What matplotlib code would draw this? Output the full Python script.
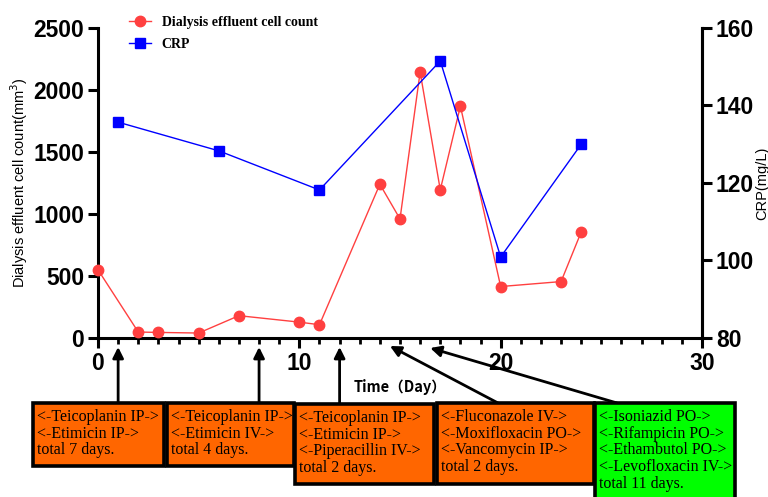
import matplotlib
matplotlib.use("Agg")
import matplotlib.pyplot as plt
from matplotlib.patches import Rectangle
from matplotlib.ticker import MultipleLocator

# ---- data ----
cell_days = [0, 2, 3, 5, 7, 10, 11, 14, 15, 16, 17, 18, 20, 23, 24]
cell_counts = [550, 48, 45, 40, 180, 128, 107, 1240, 960, 2145, 1195, 1870, 415, 455, 855]
crp_days = [1, 6, 11, 17, 20, 24]
crp_values = [135.7, 128.3, 118.2, 151.5, 100.9, 130.0]

x_ticks = [0, 10, 20, 30]
left_ticks = [0, 500, 1000, 1500, 2000, 2500]
right_ticks = [80, 100, 120, 140, 160]

arrow_days = [1, 8, 12, 14.5, 16.5]
box_texts = [
    "<-Teicoplanin IP->\n<-Etimicin IP->\ntotal 7 days.",
    "<-Teicoplanin IP->\n<-Etimicin IV->\ntotal 4 days.",
    "<-Teicoplanin IP->\n<-Etimicin IP->\n<-Piperacillin IV->\ntotal 2 days.",
    "<-Fluconazole IV->\n<-Moxifloxacin PO->\n<-Vancomycin IP->\ntotal 2 days.",
    "<-Isoniazid PO->\n<-Rifampicin PO->\n<-Ethambutol PO->\n<-Levofloxacin IV->\ntotal 11 days.",
]
box_colors = ["#FF6600", "#FF6600", "#FF6600", "#FF6600", "#00FF00"]

# ---- layout (pixels) ----
W, H = 768, 497
fig = plt.figure(figsize=(W / 100, H / 100), dpi=100)
ax = fig.add_axes([98 / W, 1 - 338 / H, (702 - 98) / W, (338 - 28) / H])
ax2 = ax.twinx()

red = "#FF4040"
blue = "#0000FF"
l1, = ax.plot(cell_days, cell_counts, color=red, lw=1, marker="o", ms=7.5,
              label="Dialysis effluent cell count", clip_on=False, zorder=3)
l2, = ax2.plot(crp_days, crp_values, color=blue, lw=1, marker="s", ms=7.5,
               label="CRP", clip_on=False, zorder=3)

ax.set_xlim(0, 30)
ax.set_ylim(0, 2500)
ax2.set_ylim(80, 160)
ax.set_xticks(x_ticks)
ax.xaxis.set_minor_locator(MultipleLocator(1))
ax.set_yticks(left_ticks)
ax2.set_yticks(right_ticks)

for a in (ax, ax2):
    for s in a.spines.values():
        s.set_linewidth(2.2)
    a.spines["top"].set_visible(False)
ax2.spines["left"].set_visible(False)
ax2.spines["bottom"].set_visible(False)

ax.tick_params(axis="both", which="major", direction="out", length=7, width=2.2,
               labelsize=16.5, pad=3)
ax.tick_params(axis="x", which="minor", direction="out", length=4, width=2)
ax2.tick_params(axis="y", which="major", direction="out", length=7, width=2.2,
                labelsize=16.5, pad=3)
for lab in ax.get_xticklabels() + ax.get_yticklabels() + ax2.get_yticklabels():
    lab.set_fontweight("bold")
    lab.set_family(["Liberation Sans", "DejaVu Sans"])

ax.set_ylabel("Dialysis effluent cell count(mm$^3$)", fontsize=10.5,
              family=["Liberation Sans", "DejaVu Sans"], labelpad=2)
ax2.set_ylabel("CRP(mg/L)", fontsize=10.5, family=["Liberation Sans", "DejaVu Sans"],
               labelpad=1)
ax.set_xlabel("Time（Day）", fontsize=10.5, fontweight="bold",
              family=["Noto Sans CJK SC", "DejaVu Sans"], labelpad=3)

leg = fig.legend(handles=[l1, l2], loc="upper left",
                 bbox_to_anchor=(116 / W, 1 - 3 / H), frameon=False,
                 prop={"family": "Liberation Serif", "weight": "bold", "size": 10},
                 handlelength=1.6, labelspacing=0.65, handletextpad=0.8)

# ---- boxes ----
boxes_px = [  # left, top, right, bottom
    (33, 403, 164, 466),
    (167, 403, 294, 466),
    (295, 404, 434, 484),
    (437, 403, 594, 484),
    (595, 403, 735, 505),
]
for (l, t, r, b), txt, c in zip(boxes_px, box_texts, box_colors):
    rect = Rectangle((l / W, 1 - b / H), (r - l) / W, (b - t) / H,
                     transform=fig.transFigure, facecolor=c, edgecolor="black",
                     lw=2.6, clip_on=False)
    fig.patches.append(rect)
    fig.text((l + 4) / W, 1 - (t + 6) / H, txt, ha="left", va="top",
             family="Liberation Serif", fontsize=11.5, linespacing=1.06)

# ---- arrows ----
def px_to_axes_y(py):
    return (338 - py) / 310.0

tail_days = [1, 8, 12, (498 - 98) / (604 / 30), (617 - 98) / (604 / 30)]
head_y = [347, 347, 347, 346, 348]
tail_y = [403, 403, 404, 403, 403]
bt = ax.get_xaxis_transform()
for d, td, hy, ty in zip(arrow_days, tail_days, head_y, tail_y):
    ax.annotate("", xy=(d, px_to_axes_y(hy)), xycoords=bt,
                xytext=(td, px_to_axes_y(ty)), textcoords=bt,
                arrowprops=dict(arrowstyle="-|>", color="black", lw=2,
                                mutation_scale=16, shrinkA=0, shrinkB=0),
                annotation_clip=False)

fig.savefig("out.png", dpi=100)
